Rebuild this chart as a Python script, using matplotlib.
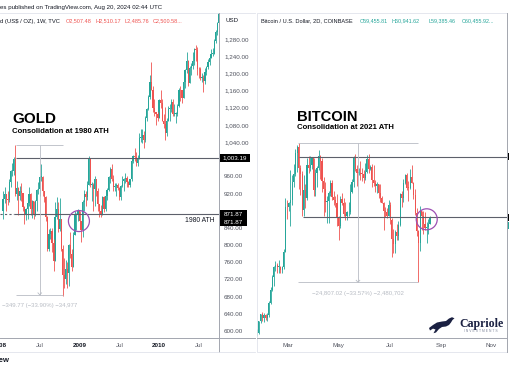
import matplotlib
matplotlib.use("Agg")
import matplotlib.dates as mdates
import matplotlib.pyplot as plt
import numpy as np
import pandas as pd
from matplotlib.patches import Circle, Polygon, Rectangle

# ---------------------------------------------------------------- data
# Gold (US$/OZ), weekly bars, first bar = week of 2008-01-21
gold_first_open = 880
gold_close = [
    907, 918, 907, 906, 947, 972, 972, 1000, 920, 933,
    915, 925, 921, 888, 872, 883, 898, 920, 885, 903,
    870, 903, 928, 930, 958, 958, 925, 912, 865, 790,
    827, 833, 806, 763, 865, 885, 837, 860, 790, 730,
    722, 745, 735, 800, 780, 750, 823, 870, 872, 880,
    856, 835, 900, 918, 913, 941, 1000, 940, 940, 930,
    953, 925, 895, 880, 870, 913, 883, 914, 928, 958,
    978, 955, 935, 938, 940, 932, 912, 937, 950, 955,
    957, 948, 940, 953, 995, 1008, 1005, 992, 1003, 1050,
    1050, 1056, 1045, 1095, 1118, 1145, 1180, 1162, 1120, 1110,
    1105, 1097, 1138, 1130, 1090, 1082, 1062, 1090, 1118, 1118,
    1134, 1105, 1106, 1106, 1125, 1162, 1160, 1142, 1179, 1208,
    1228, 1177, 1212, 1218, 1228, 1256, 1255, 1211, 1209, 1190,
    1190, 1181, 1204, 1215, 1227, 1236, 1246, 1246, 1276, 1297,
    1318, 1345,
]
gold_high = [
    925, 935, 919, 925, 953, 975, 992, 1005, 1033, 950,
    935, 937, 945, 920, 890, 887, 900, 935, 922, 905,
    895, 905, 930, 948, 962, 988, 960, 925, 915, 868,
    838, 840, 840, 815, 900, 912, 900, 910, 850, 800,
    770, 765, 760, 803, 830, 790, 830, 880, 875, 885,
    880, 845, 905, 928, 925, 950, 1007, 1000, 948, 945,
    960, 955, 932, 890, 893, 914, 915, 918, 932, 962,
    982, 989, 963, 945, 945, 944, 935, 940, 960, 957,
    968, 960, 950, 955, 998, 1010, 1025, 1017, 1010, 1060,
    1070, 1070, 1065, 1100, 1120, 1150, 1195, 1226, 1170, 1140,
    1110, 1110, 1140, 1162, 1140, 1105, 1122, 1095, 1125, 1128,
    1140, 1140, 1128, 1110, 1128, 1165, 1170, 1160, 1181, 1210,
    1249, 1230, 1217, 1225, 1250, 1258, 1265, 1262, 1215, 1215,
    1200, 1195, 1212, 1216, 1233, 1240, 1256, 1259, 1280, 1300,
    1320, 1348,
]
gold_low = [
    860, 897, 880, 894, 900, 935, 960, 963, 915, 905,
    870, 905, 903, 880, 850, 858, 860, 892, 870, 862,
    860, 868, 880, 920, 915, 950, 915, 900, 855, 786,
    786, 815, 784, 740, 765, 860, 830, 833, 787, 681,
    700, 710, 700, 705, 770, 740, 750, 825, 835, 855,
    840, 808, 820, 880, 890, 905, 940, 935, 903, 880,
    890, 915, 880, 865, 865, 870, 878, 880, 905, 925,
    945, 950, 926, 925, 915, 928, 905, 905, 935, 926,
    945, 935, 935, 935, 950, 990, 995, 985, 985, 1000,
    1040, 1038, 1025, 1040, 1090, 1115, 1140, 1160, 1110, 1100,
    1080, 1088, 1096, 1120, 1088, 1072, 1045, 1055, 1090, 1090,
    1110, 1100, 1100, 1085, 1100, 1122, 1135, 1130, 1145, 1165,
    1200, 1170, 1180, 1195, 1210, 1220, 1228, 1195, 1190, 1185,
    1180, 1157, 1175, 1195, 1210, 1220, 1235, 1240, 1245, 1270,
    1290, 1310,
]
# price-scale labels that are not hidden behind the level tags
gold_ticks = [600, 640, 680, 720, 760, 800, 840, 920, 960, 1040, 1080, 1120, 1160, 1200, 1240, 1280]
gold_xtick_dates = ["2008-01-07", "2008-07-07", "2009-01-05", "2009-07-06", "2010-01-04", "2010-07-05"]
gold_xtick_labels = ["2008", "Jul", "2009", "Jul", "2010", "Jul"]
gold_levels = [1003.19, 871.87]
gold_measure_top, gold_measure_low = 1033.90, 684.13
gold_measure_label = "\u2212349.77 (\u221233.90%) \u221234,977"
gold_circle_price = 856

# Bitcoin / USD, 2D bars (Coinbase), first bar = 2024-01-22, thousands of USD
btc_first_open = 41.6
btc_close = [
    40.0, 40.0, 42.1, 43.3, 42.6, 43.2, 42.6, 43.1, 45.3, 47.7,
    49.9, 51.8, 52.1, 51.8, 51.8, 51.3, 51.7, 54.5, 62.5, 62.4,
    63.1, 63.8, 67.0, 68.3, 72.1, 73.1, 69.5, 68.4, 61.9, 65.5,
    64.0, 69.9, 69.4, 69.9, 71.3, 65.5, 68.5, 69.4, 71.6, 70.6,
    67.1, 65.7, 63.4, 63.5, 64.9, 66.8, 64.3, 63.8, 63.1, 60.6,
    59.1, 63.9, 63.1, 61.2, 60.8, 61.5, 61.6, 65.2, 67.0, 71.4,
    69.2, 68.5, 68.5, 68.4, 68.3, 67.7, 68.8, 71.1, 69.3, 69.6,
    67.3, 66.8, 66.2, 66.5, 65.0, 64.1, 63.2, 61.8, 61.6, 60.9,
    62.8, 60.2, 56.7, 55.9, 58.0, 57.3, 59.2, 64.8, 64.1, 66.7,
    68.2, 65.9, 65.8, 67.9, 66.8, 64.6, 61.4, 58.1, 56.0, 61.7,
    60.9, 59.4, 58.7, 58.9, 59.46, 60.46,
]
btc_high = [
    41.7, 40.6, 42.2, 43.4, 43.8, 43.5, 43.4, 43.5, 45.6, 48.2,
    50.3, 52.0, 52.8, 52.5, 53.0, 52.0, 51.9, 54.9, 64.0, 63.7,
    63.4, 69.0, 68.2, 70.1, 72.8, 73.6, 73.8, 70.0, 68.9, 68.1,
    66.6, 71.2, 71.6, 71.5, 71.3, 71.3, 69.2, 69.7, 72.7, 71.7,
    71.2, 67.9, 66.9, 64.5, 65.4, 67.2, 67.2, 65.3, 64.4, 64.7,
    60.8, 64.4, 65.0, 64.0, 63.4, 61.8, 63.4, 66.5, 67.4, 71.5,
    71.9, 70.0, 69.5, 70.6, 69.5, 69.0, 70.3, 71.7, 71.9, 69.9,
    70.1, 70.0, 67.3, 67.0, 66.6, 66.5, 64.5, 63.4, 62.4, 62.2,
    63.8, 63.3, 60.5, 58.5, 58.3, 59.5, 59.9, 64.9, 65.4, 67.4,
    68.4, 68.5, 67.1, 69.3, 70.0, 66.9, 65.6, 62.2, 58.3, 62.7,
    61.8, 61.7, 61.6, 59.8, 60.3, 60.94,
]
btc_low = [
    38.5, 39.5, 39.8, 41.8, 42.2, 41.9, 42.3, 42.2, 42.8, 45.2,
    47.5, 48.3, 51.0, 50.7, 50.6, 50.6, 50.6, 51.4, 54.4, 60.4,
    61.8, 59.0, 62.8, 66.1, 68.0, 68.7, 65.6, 64.6, 60.8, 60.9,
    62.2, 63.8, 68.6, 68.9, 69.3, 64.5, 64.5, 66.0, 69.0, 67.5,
    65.1, 60.8, 61.6, 59.6, 59.6, 64.4, 63.8, 62.8, 62.4, 59.1,
    56.5, 58.8, 62.8, 60.8, 60.2, 60.2, 60.8, 61.3, 64.9, 66.1,
    68.9, 66.3, 68.2, 67.3, 67.1, 66.7, 67.3, 68.5, 68.5, 69.1,
    66.1, 66.3, 65.1, 64.9, 64.1, 63.4, 63.2, 58.4, 60.6, 60.5,
    60.8, 59.4, 53.5, 54.3, 54.3, 56.6, 56.6, 59.1, 62.4, 63.3,
    66.5, 65.5, 63.5, 65.7, 66.7, 63.9, 61.1, 57.2, 49.0, 54.6,
    58.3, 57.7, 58.4, 56.1, 57.7, 59.39,
]
btc_xtick_dates = ["2024-03-01", "2024-05-01", "2024-07-01", "2024-09-01", "2024-11-01"]
btc_xtick_labels = ["Mar", "May", "Jul", "Sep", "Nov"]
btc_levels = [71390, 60626]
btc_measure_top, btc_measure_low = 73835.0, 49028.0
btc_measure_label = "\u221224,807.02 (\u221233.57%) \u22122,480,702"
btc_circle_price = 60270

# ---------------------------------------------------------------- style
UP, DOWN = "#26a69a", "#ef5350"
TXT, AXTXT = "#131722", "#50535e"
LEVEL, MEASURE, BORDER = "#5d606b", "#b8bcc4", "#a3a6af"
PURPLE = "#9c4fb3"
W, H = 510, 369

plt.rcParams["font.family"] = ["Liberation Sans", "DejaVu Sans"]
fig = plt.figure(figsize=(W / 100, H / 100), dpi=100)


def px_axes(left, top, right, bottom, **kw):
    return fig.add_axes([left / W, 1 - bottom / H, (right - left) / W, (bottom - top) / H], **kw)


def to_px(ax, x, y):
    dx, dy = ax.transData.transform((x, y))
    return dx, H - dy


def draw_candles(ax, x, o, h, l, c, width, min_body):
    h = np.maximum(h, np.maximum(o, c))
    l = np.minimum(l, np.minimum(o, c))
    colors = np.where(c >= o, UP, DOWN)
    ax.vlines(x, l, h, colors=colors, linewidth=0.6)
    body = np.maximum(np.abs(c - o), min_body)
    ax.bar(x, body, bottom=np.minimum(o, c), width=width, color=colors, linewidth=0)


def style_axes(ax):
    for s in ax.spines.values():
        s.set_visible(False)
    ax.tick_params(axis="x", length=0, pad=3.4, labelsize=4.5, colors=AXTXT)


# ---------------------------------------------------------------- gold pane
ax_g = px_axes(0, 13, 219, 338)
gc = np.array(gold_close, float)
go = np.concatenate([[gold_first_open], gc[:-1]])
gx = mdates.date2num(pd.date_range("2008-01-21", periods=len(gc), freq="W-MON").to_pydatetime())
g0 = mdates.datestr2num("2008-01-07")
ax_g.set_xlim(g0 + 20.9, g0 + 1002.3)
ax_g.set_ylim(583.7, 1340.4)
draw_candles(ax_g, gx, go, np.array(gold_high, float), np.array(gold_low, float), gc, 5.6, 1.8)
style_axes(ax_g)
ax_g.set_xticks(mdates.datestr2num(gold_xtick_dates))
ax_g.set_xticklabels(gold_xtick_labels)
for lab in ax_g.get_xticklabels():
    if lab.get_text() != "Jul":
        lab.set_fontweight("bold")
        lab.set_color(TXT)
ax_g.yaxis.tick_right()
ax_g.set_yticks(gold_ticks)
ax_g.set_yticklabels([f"{v:,.2f}" for v in gold_ticks])
ax_g.tick_params(axis="y", length=0, pad=3.6, labelsize=4.5, colors=AXTXT)

xr = ax_g.get_xlim()[1]
ax_g.hlines(gold_levels[0], g0 + 10.7 * 7, xr, color=LEVEL, lw=0.8)
ax_g.hlines(gold_levels[1], g0 + 9.4 * 7, xr, color=LEVEL, lw=0.8)
ax_g.hlines(gold_levels[1], ax_g.get_xlim()[0], g0 + 9.4 * 7, color=LEVEL, lw=0.8, linestyles=(0, (2, 2)))

gm0, gm1, gmid = g0 + 10.67 * 7, g0 + 41.4 * 7, g0 + 26.0 * 7
ax_g.hlines([gold_measure_top, gold_measure_low], gm0, gm1, color=MEASURE, lw=0.6)
ax_g.vlines(gmid, gold_measure_low, gold_measure_top, color=MEASURE, lw=0.6)
ax_g.text(gmid, gold_measure_low - 20, gold_measure_label, ha="center", va="top", fontsize=4.3, color=MEASURE)

# ---------------------------------------------------------------- bitcoin pane
ax_b = px_axes(257, 13, 507, 338)
bc = np.array(btc_close, float) * 1000
bo = np.concatenate([[btc_first_open * 1000], bc[:-1]])
bx = mdates.date2num(pd.date_range("2024-01-22", periods=len(bc), freq="2D").to_pydatetime())
b0 = mdates.datestr2num("2024-01-01")
ax_b.set_xlim(b0 + 22.74, b0 + 323.6)
ax_b.set_ylim(39081, 97094)
draw_candles(ax_b, bx, bo, np.array(btc_high) * 1000, np.array(btc_low) * 1000, bc, 1.4, 150)
style_axes(ax_b)
ax_b.set_yticks([])
ax_b.set_xticks(mdates.datestr2num(btc_xtick_dates))
ax_b.set_xticklabels(btc_xtick_labels)

xr_b = ax_b.get_xlim()[1]
ax_b.hlines(btc_levels[0], b0 + 72.9, xr_b, color=LEVEL, lw=0.8)
ax_b.hlines(btc_levels[1], b0 + 78.0, xr_b, color=LEVEL, lw=0.8)
bm0, bm1, bmid = b0 + 72.4, b0 + 216.5, b0 + 144.3
ax_b.hlines([btc_measure_top, btc_measure_low], bm0, bm1, color=MEASURE, lw=0.6)
ax_b.vlines(bmid, btc_measure_low, btc_measure_top, color=MEASURE, lw=0.6)
ax_b.text(bmid, btc_measure_low - 1500, btc_measure_label, ha="center", va="top", fontsize=4.3, color=MEASURE)

# ---------------------------------------------------------------- overlay (frames, labels, notes)
ov = fig.add_axes([0, 0, 1, 1], zorder=10)
ov.set_xlim(0, W)
ov.set_ylim(H, 0)
ov.axis("off")

# pane frames
ov.plot([0, 255], [13, 13], color="#e0e3eb", lw=0.6)
ov.plot([219, 219], [13, 352], color=BORDER, lw=0.7)
ov.plot([0, 255], [338, 338], color=BORDER, lw=0.7)
ov.plot([0, 255], [352, 352], color="#e0e3eb", lw=0.6)
ov.add_patch(Rectangle((257, 13), 250, 339, fill=False, ec="#e0e3eb", lw=0.6))
ov.plot([257, 507], [338, 338], color=BORDER, lw=0.7)
ov.plot([507, 507], [13, 352], color=BORDER, lw=0.7)

# measure arrow heads
for ax, xm, yb in ((ax_g, gmid, gold_measure_low), (ax_b, bmid, btc_measure_low)):
    px, py = to_px(ax, xm, yb)
    ov.plot([px - 1.8, px, px + 1.8], [py - 2, py, py - 2], color=MEASURE, lw=0.6)

# price-scale tags
for lvl, dy, w in ((gold_levels[0], 0, 30), (gold_levels[1], 0, 27), (gold_levels[1], 8, 27)):
    _, py = to_px(ax_g, xr, lvl)
    py += dy
    ov.add_patch(Rectangle((220, py - 3.8), w, 7.6, color="#000000", lw=0))
    ov.text(220 + w / 2, py, f"{lvl:,.2f}", ha="center", va="center", fontsize=4.5, color="white")
for lvl in btc_levels:
    _, py = to_px(ax_b, xr_b, lvl)
    ov.add_patch(Rectangle((508, py - 3.5), 3, 7, color="#000000", lw=0))
_, py = to_px(ax_b, xr_b, bc[-1])
ov.add_patch(Rectangle((508, py + 3.5), 3, 7, color=UP, lw=0))

ov.text(215, 221, "1980 ATH", ha="right", va="center", fontsize=4.9, color=TXT)

# circles around the retests
for ax, xc, yc in ((ax_g, g0 + 51.6 * 7, gold_circle_price), (ax_b, b0 + 227.0, btc_circle_price)):
    cx, cy = to_px(ax, xc, yc)
    ov.add_patch(Circle((cx, cy), 10.5, fill=False, ec=PURPLE, lw=0.9))

# titles
ov.text(12, 123.3, "GOLD", fontsize=11, fontweight="bold", color="#000000", va="baseline")
ov.text(12, 133.3, "Consolidation at 1980 ATH", fontsize=5.6, fontweight="bold", color="#000000", va="baseline")
ov.text(297, 120.7, "BITCOIN", fontsize=10.6, fontweight="bold", color="#000000", va="baseline")
ov.text(297, 129.3, "Consolidation at 2021 ATH", fontsize=5.6, fontweight="bold", color="#000000", va="baseline")

# header / legend lines
ov.text(0, 7, "es published on TradingView.com, Aug 20, 2024 02:44 UTC", fontsize=4.4, color=TXT, va="center")
ov.text(0, 21, "d (US$ / OZ), 1W, TVC", fontsize=4.2, color=TXT, va="center")
for x, s in ((66, "O2,507.48"), (95.7, "H2,510.17"), (125, "L2,485.76"), (153, "C2,500.58...")):
    ov.text(x, 21, s, fontsize=4.0, color=DOWN, va="center")
ov.text(232, 21, "USD", fontsize=4.4, color=TXT, ha="center", va="center")
ov.text(261, 21, "Bitcoin / U.S. Dollar, 2D, COINBASE", fontsize=4.1, color=TXT, va="center")
for x, s in ((359.3, "O59,455.81"), (391.7, "H60,941.62"), (429, "L59,385.46"), (461.7, "C60,455.92...")):
    ov.text(x, 21, s, fontsize=3.9, color=UP, va="center")

ov.text(9.5, 361, "TradingView", fontsize=5.5, fontweight="bold", color=TXT, ha="right", va="center")

# Capriole logo
horse = [(429, 328), (433, 325), (437, 322.5), (442, 321.5), (446, 321), (449, 318.5), (452, 317.2),
         (454.5, 318.3), (452.5, 320), (451, 322.5), (449, 325), (446, 326.5), (442, 327), (439, 329),
         (436, 332.5), (433.5, 333.2), (435.5, 329.5), (433, 328.6), (430, 330.5)]
ov.add_patch(Polygon(horse, closed=True, color="#1b2142", lw=0))
ov.text(459, 327, "Capriole", fontsize=8.6, fontweight="bold", color="#1b2142",
        family=["Liberation Serif", "DejaVu Serif"], va="baseline")
ov.text(481, 331.5, "I N V E S T M E N T S", fontsize=2.4, color="#7d8499", ha="center", va="center")

fig.savefig("out.png", dpi=100, facecolor="white")
